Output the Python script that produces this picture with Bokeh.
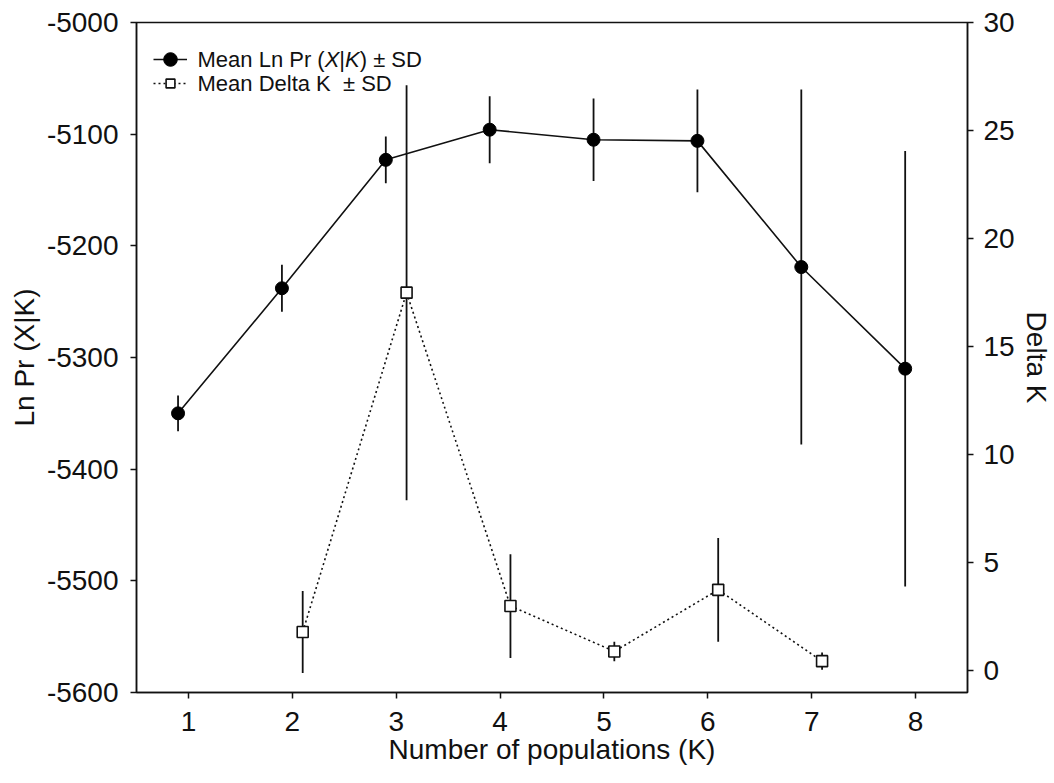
import math
from bokeh.plotting import figure
from bokeh.models import (Range1d, LinearAxis, FixedTicker, Label, Legend,
                          LegendItem, ColumnDataSource)
from bokeh.transform import dodge
from bokeh.embed import file_html
from bokeh.resources import INLINE
from bokeh.core.properties import value

# ---------------- data ----------------
k_values = [1, 2, 3, 4, 5, 6, 7, 8]
ln_mean = [-5350, -5238, -5123, -5096, -5105, -5106, -5219, -5310]
ln_sd = [16, 21, 21, 30, 37, 46, 159, 195]

dk_k = [2, 3, 4, 5, 6, 7]
dk_mean = [1.8, 17.5, 3.0, 0.9, 3.75, 0.45]
dk_sd = [1.9, 9.6, 2.4, 0.45, 2.4, 0.4]

x_ticks = [1, 2, 3, 4, 5, 6, 7, 8]
left_ticks = [-5600, -5500, -5400, -5300, -5200, -5100, -5000]
right_ticks = [0, 5, 10, 15, 20, 25, 30]

x_title = "Number of populations (K)"
left_title = "Ln Pr (X|K)"
right_title = "Delta K"

FONT = "Liberation Sans"
TICK_SIZE = 28
TITLE_SIZE = 28
LEG_SIZE = 22
INK = "#111111"

ln_src = ColumnDataSource(dict(
    k=k_values, m=ln_mean,
    lo=[m - s for m, s in zip(ln_mean, ln_sd)],
    hi=[m + s for m, s in zip(ln_mean, ln_sd)]))
dk_src = ColumnDataSource(dict(
    k=dk_k, m=dk_mean,
    lo=[m - s for m, s in zip(dk_mean, dk_sd)],
    hi=[m + s for m, s in zip(dk_mean, dk_sd)]))

p = figure(frame_width=831, frame_height=670,
           x_range=Range1d(0.5, 8.5), y_range=Range1d(-5600, -5000),
           output_backend="svg", toolbar_location=None,
           min_border_left=136, min_border_top=22,
           min_border_right=80, min_border_bottom=86)
p.extra_y_ranges = {"dk": Range1d(-1, 30)}
p.xgrid.visible = False
p.ygrid.visible = False
p.outline_line_color = INK
p.outline_line_width = 1.5
p.background_fill_color = "white"
p.border_fill_color = "white"

def style_axis(ax, standoff, title, title_standoff):
    ax.axis_line_color = INK
    ax.axis_line_width = 1.5
    ax.major_tick_line_color = INK
    ax.major_tick_line_width = 1.5
    ax.major_tick_out = 6
    ax.major_tick_in = 0
    ax.minor_tick_line_color = None
    ax.major_label_text_font = FONT
    ax.major_label_text_font_size = f"{TICK_SIZE}px"
    ax.major_label_text_color = INK
    ax.major_label_standoff = standoff
    ax.axis_label = title
    ax.axis_label_text_font = FONT
    ax.axis_label_text_font_size = f"{TITLE_SIZE}px"
    ax.axis_label_text_font_style = "normal"
    ax.axis_label_text_color = INK
    ax.axis_label_standoff = title_standoff

p.xaxis.ticker = FixedTicker(ticks=x_ticks)
p.yaxis.ticker = FixedTicker(ticks=left_ticks)
p.yaxis.major_label_overrides = {t: str(t) for t in left_ticks}
style_axis(p.xaxis[0], 13, x_title, 0)
style_axis(p.yaxis[0], 12, left_title, 4)

raxis = LinearAxis(y_range_name="dk", ticker=FixedTicker(ticks=right_ticks))
style_axis(raxis, 10, right_title, 3)
p.add_layout(raxis, "right")

# ---------------- marks ----------------
ln_x = dodge("k", -0.1, range=p.x_range)
dk_x = dodge("k", 0.1, range=p.x_range)

p.segment(x0=ln_x, y0="lo", x1=ln_x, y1="hi", source=ln_src,
          line_color=INK, line_width=1.8)
ln_line = p.line(x=ln_x, y="m", source=ln_src, line_color=INK, line_width=1.6)
ln_pts = p.scatter(x=ln_x, y="m", source=ln_src, marker="circle", size=13,
                   fill_color="black", line_color="black")

p.segment(x0=dk_x, y0="lo", x1=dk_x, y1="hi", source=dk_src,
          line_color=INK, line_width=1.8, y_range_name="dk")
dk_line = p.line(x=dk_x, y="m", source=dk_src, line_color=INK, line_width=1.6,
                 line_dash="2 3", y_range_name="dk")
dk_pts = p.scatter(x=dk_x, y="m", source=dk_src, marker="square", size=11,
                   fill_color="white", line_color=INK, line_width=1.6,
                   y_range_name="dk")

# ---------------- legend (glyphs; one legend per row) ----------------
def legend_row(renderers, loc, gh):
    lg = Legend(items=[LegendItem(label=value(""), renderers=renderers)],
                location=loc, glyph_width=34, glyph_height=gh,
                spacing=0, padding=0, margin=0, label_standoff=0,
                label_width=0, label_height=0,
                border_line_alpha=0, background_fill_alpha=0)
    p.add_layout(lg)

legend_row([ln_line, ln_pts], (17, 616), 34)
legend_row([dk_line, dk_pts], (17, 598), 22)

# ---------------- rich legend text ----------------
ARIAL = {' ': 278, '(': 333, ')': 333, '|': 260, '±': 584, '-': 333,
         'D': 722, 'K': 667, 'L': 556, 'M': 833, 'N': 722, 'P': 667,
         'S': 667, 'X': 667, 'a': 556, 'b': 556, 'e': 556, 'f': 278,
         'i': 222, 'l': 222, 'm': 833, 'n': 556, 'o': 556, 'p': 556,
         'r': 333, 's': 500, 't': 278, 'u': 556}

def tw(s, size):
    return sum(ARIAL.get(c, 556) for c in s) / 1000.0 * size

def rich(pieces, x, y, size):
    off = 0.0
    for t, style in pieces:
        txt = t.strip()
        if txt:
            lead = tw(t[:len(t) - len(t.lstrip())], size)
            p.add_layout(Label(x=x + off + lead, y=y,
                               x_units="screen", y_units="screen",
                               text=txt, text_align="left",
                               text_baseline="middle", text_font=FONT,
                               text_font_size=f"{size}px",
                               text_font_style=style, text_color=INK))
        off += tw(t, size)

rich([("Mean Ln Pr (", "normal"), ("X", "italic"), ("|", "normal"),
      ("K", "italic"), (") ± SD", "normal")], 61, 633, LEG_SIZE)
rich([("Mean Delta K", "normal"), ("  ± SD", "normal")], 61, 609, LEG_SIZE)

open("out.html", "w").write(file_html(p, INLINE))
